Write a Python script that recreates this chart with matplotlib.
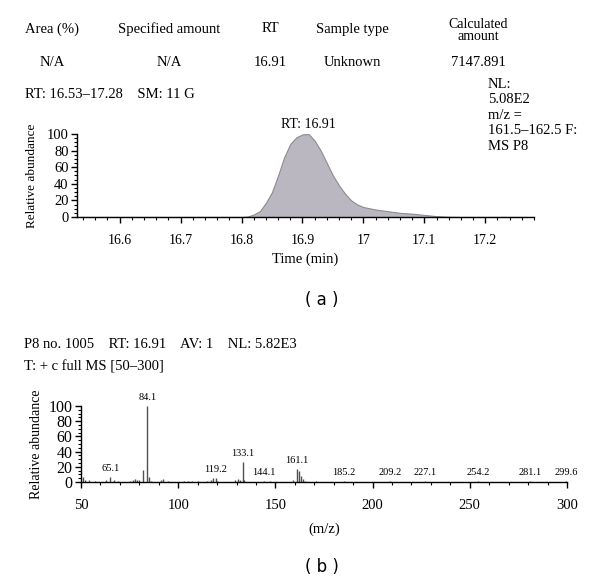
import matplotlib
matplotlib.use("Agg")
import matplotlib.pyplot as plt
from matplotlib.ticker import MultipleLocator

plt.rcParams['font.family'] = ['Liberation Serif', 'DejaVu Serif']

# ---------------- data ----------------
header_cols = ["Area (%)", "Specified amount", "RT", "Sample type", "Calculated\namount"]
header_vals = ["N/A", "N/A", "16.91", "Unknown", "7147.891"]

chrom_time = [16.53, 16.80, 16.81, 16.82, 16.83, 16.84, 16.85, 16.86, 16.87, 16.88,
              16.89, 16.90, 16.91, 16.92, 16.93, 16.94, 16.95, 16.96, 16.97, 16.98,
              16.99, 17.00, 17.02, 17.04, 17.06, 17.08, 17.10, 17.12, 17.14, 17.16, 17.28]
chrom_abund = [0, 0, 0.5, 3, 7, 17, 30, 50, 72, 88,
               96, 99.5, 100, 92, 80, 65, 50, 38, 28, 20,
               15, 12, 9, 7, 5, 4, 2.5, 1, 0.3, 0, 0]

spec_mz = [51, 52, 54, 57, 63, 65, 67, 69, 75, 77, 78, 79, 80, 82, 84.1, 85, 86,
           91, 92, 95, 103, 105, 107, 110, 115, 117, 118, 119.2, 120, 129, 131, 132,
           133.1, 134, 144.1, 147, 159, 161.1, 162, 163, 164, 165, 171, 185.2, 195,
           209.2, 215, 227.1, 240, 254.2, 265, 281.1, 290, 299.6]
spec_int = [6, 3, 2, 1, 3, 6, 3, 1, 1, 3, 4, 3, 2, 16, 100, 6, 1,
            3, 4, 1, 1, 1, 1, 1, 1, 3, 5, 5, 1, 2, 4, 2,
            26, 3, 1, 1, 2, 17, 14, 8, 4, 1, 1, 1, 0.5,
            1, 0.5, 1, 0.5, 1, 0.5, 1, 0.5, 1]

peak_labels = ["65.1", "84.1", "119.2", "133.1", "144.1", "161.1", "185.2",
               "209.2", "227.1", "254.2", "281.1", "299.6"]
peak_label_mz = [65, 84.1, 119.2, 133.1, 144.1, 161.1, 185.2,
                 209.2, 227.1, 254.2, 281.1, 299.6]

chrom_xticks = [16.6, 16.7, 16.8, 16.9, 17.0, 17.1, 17.2]
chrom_xticklabels = ["16.6", "16.7", "16.8", "16.9", "17", "17.1", "17.2"]
yticks = [0, 20, 40, 60, 80, 100]
spec_xticks = [50, 100, 150, 200, 250, 300]

# ---------------- figure ----------------
W, H = 600, 583
fig = plt.figure(figsize=(W / 100, H / 100), dpi=100)


def fx(x):
    return x / W


def fy(y):
    return 1 - y / H


def txt(x, y, s, **kw):
    fig.text(fx(x), fy(y), s, **kw)


# header table
col_x = [52, 169, 270, 352, 478]
for x, s in zip(col_x, header_cols):
    if "\n" in s:
        a, b = s.split("\n")
        txt(x, 24, a, ha="center", va="center", fontsize=10)
        txt(x, 37, b, ha="center", va="center", fontsize=10)
    else:
        txt(x, 29, s, ha="center", va="center", fontsize=10.5)
for x, s in zip(col_x, header_vals):
    txt(x, 63, s, ha="center", va="center", fontsize=10.5)

txt(25, 94, "RT: 16.53\u201317.28    SM: 11 G", ha="left", va="center", fontsize=10.5)
right_lines = ["NL:", "5.08E2", "m/z =", "161.5\u2013162.5 F:", "MS P8"]
for i, s in enumerate(right_lines):
    txt(488, 84 + i * 15.6, s, ha="left", va="center", fontsize=10.5)


def style_axes(ax):
    for sp in ["top", "right"]:
        ax.spines[sp].set_visible(False)
    for sp in ["left", "bottom"]:
        ax.spines[sp].set_linewidth(1.0)
    ax.tick_params(which="major", direction="out", length=4, width=1)
    ax.tick_params(which="minor", direction="out", length=2.5, width=0.8)


# ---------------- chromatogram ----------------
ax1 = fig.add_axes([fx(77), fy(217), fx(534) - fx(77), fy(134) - fy(217)])
ax1.fill_between(chrom_time, chrom_abund, 0, facecolor="#bab7c0",
                 edgecolor="#8e8a94", linewidth=0.8)
ax1.set_xlim(16.53, 17.28)
ax1.set_ylim(0, 100)
ax1.set_xticks(chrom_xticks)
ax1.set_xticklabels(chrom_xticklabels)
ax1.xaxis.set_minor_locator(MultipleLocator(0.02))
ax1.set_yticks(yticks)
ax1.yaxis.set_minor_locator(MultipleLocator(5))
style_axes(ax1)
ax1.tick_params(axis="x", labelsize=10, pad=8)
ax1.tick_params(axis="y", labelsize=10.5, pad=2)
ax1.set_xlabel("Time (min)", fontsize=10.5, labelpad=4)
ax1.set_ylabel("Relative abundance", fontsize=9.5, labelpad=6)
ax1.annotate("RT: 16.91", (16.91, 100), xytext=(0, 2), textcoords="offset points",
             ha="center", va="bottom", fontsize=10, annotation_clip=False)

txt(322, 300, "( a )", ha="center", va="center", fontsize=12, family="DejaVu Sans")

# ---------------- mass spectrum ----------------
txt(24, 345, "P8 no. 1005    RT: 16.91    AV: 1    NL: 5.82E3", ha="left",
    va="center", fontsize=10.5)
txt(24, 367, "T: + c full MS [50\u2013300]", ha="left", va="center", fontsize=10.5)

ax2 = fig.add_axes([fx(81), fy(482), fx(567) - fx(81), fy(406) - fy(482)])
ax2.vlines(spec_mz, 0, spec_int, color="#505050", linewidth=1.0)
ax2.set_xlim(50, 300)
ax2.set_ylim(0, 100)
ax2.set_xticks(spec_xticks)
ax2.xaxis.set_minor_locator(MultipleLocator(10))
ax2.set_yticks(yticks)
ax2.yaxis.set_minor_locator(MultipleLocator(5))
style_axes(ax2)
ax2.tick_params(axis="x", labelsize=10.5, pad=8)
ax2.tick_params(axis="y", labelsize=11.5, pad=2)
ax2.set_xlabel("(m/z)", fontsize=10.5, labelpad=8)
ax2.set_ylabel("Relative abundance", fontsize=10, labelpad=4)

for mz, lab in zip(peak_label_mz, peak_labels):
    h = max(spec_int[i] for i, m in enumerate(spec_mz) if abs(m - mz) < 1.5)
    ax2.annotate(lab, (mz, h), xytext=(0, 3), textcoords="offset points",
                 ha="center", va="bottom", fontsize=7.5, annotation_clip=False)

txt(322, 567, "( b )", ha="center", va="center", fontsize=12, family="DejaVu Sans")

fig.savefig("out.png", dpi=100)
